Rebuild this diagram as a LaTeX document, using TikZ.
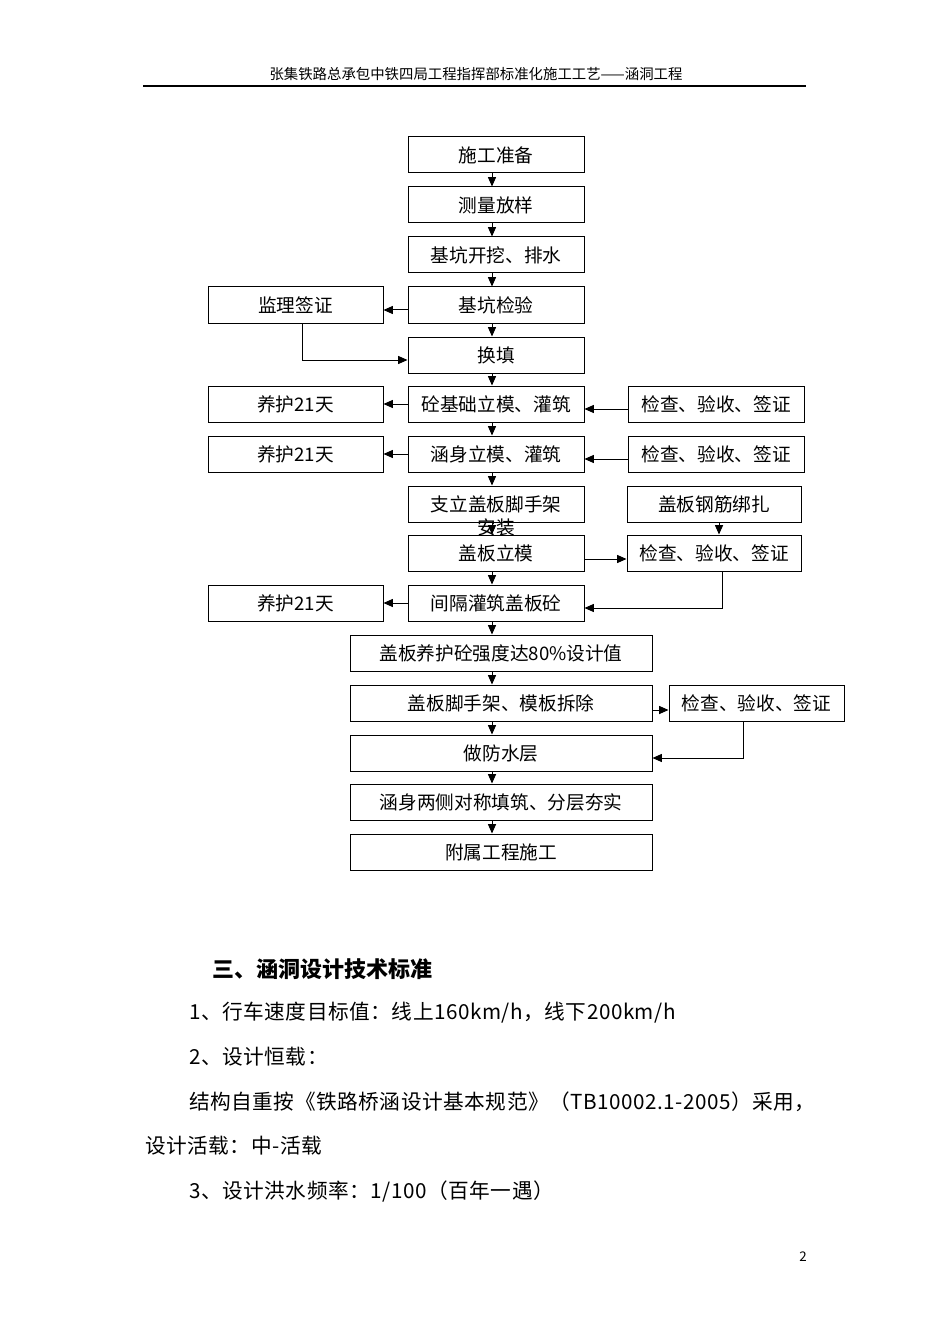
\documentclass[tikz,border=0pt]{standalone}
\usepackage{fontspec}
\setmainfont{Noto Sans CJK SC}
\newfontfamily\bodyfont[LetterSpace=2.5]{Noto Sans CJK SC}
\usetikzlibrary{arrows.meta}
\begin{document}
\begin{tikzpicture}[x=0.75pt,y=-0.75pt,
  box/.style={draw, line width=0.75pt, inner sep=0pt, minimum height=27pt, font=\fontsize{14}{16}\selectfont},
  narrow/.style={box, minimum width=132pt},
  wide/.style={box, minimum width=226.5pt},
  arr/.style={-{Triangle[length=7pt,width=6pt]}, line width=0.75pt},
  plain/.style={anchor=west, inner sep=0pt, font=\bodyfont\fontsize{15.5}{18}\selectfont},
]
\path[fill=white] (0,0) rectangle (950,1344);
\coordinate (ax) at (492,0);

% header
\node[anchor=base, inner sep=0pt, font=\fontsize{10.8}{12}\selectfont] (hd) at (476,80) {张集铁路总承包中铁四局工程指挥部标准化施工工艺——涵洞工程};
\draw[line width=1.2pt] (143,86) -- (806,86);

% main column
\node[narrow] (a1) at (496,155) {施工准备};
\node[narrow] (a2) at (496,205) {测量放样};
\node[narrow] (a3) at (496,255) {基坑开挖、排水};
\node[narrow] (a4) at (496,305) {基坑检验};
\node[narrow] (a5) at (496,355) {换填};
\node[narrow] (a6) at (496,404) {砼基础立模、灌筑};
\node[narrow] (a7) at (496,454) {涵身立模、灌筑};
\node[narrow] (a8) at (496,504) {支立盖板脚手架\llap{\makebox[7em][c]{\raisebox{-1.25em}[0pt][0pt]{安装}}}};
\node[narrow] (a9) at (496,553) {盖板立模};
\node[narrow] (a10) at (496,603) {间隔灌筑盖板砼};
\node[wide] (a11) at (501,653) {盖板养护砼强度达80\%设计值};
\node[wide] (a12) at (501,703) {盖板脚手架、模板拆除};
\node[wide] (a13) at (501,753) {做防水层};
\node[wide] (a14) at (501,802) {涵身两侧对称填筑、分层夯实};
\node[wide] (a15) at (501,852) {附属工程施工};

% left column
\node[narrow, minimum width=131.25pt] (l1) at (295.5,305) {监理签证};
\node[narrow, minimum width=131.25pt] (l2) at (295.5,404) {养护21天};
\node[narrow, minimum width=131.25pt] (l3) at (295.5,454) {养护21天};
\node[narrow, minimum width=131.25pt] (l4) at (295.5,603) {养护21天};

% right column
\node[narrow] (r1) at (716,404) {检查、验收、签证};
\node[narrow] (r2) at (716,454) {检查、验收、签证};
\node[narrow, minimum width=130.5pt] (r3) at (714,504) {盖板钢筋绑扎};
\node[narrow, minimum width=130.5pt] (r4) at (714,553) {检查、验收、签证};
\node[narrow, minimum width=131.25pt] (r5) at (756.5,703) {检查、验收、签证};

% vertical main arrows
\foreach \p/\q in {a1/a2,a2/a3,a3/a4,a4/a5,a5/a6,a6/a7,a7/a8,a8/a9,a9/a10,a10/a11,a11/a12,a12/a13,a13/a14,a14/a15}
  \draw[arr] (\p.south -| ax) -- (\q.north -| ax);

% left side
\draw[arr] ([yshift=-3.75pt]a4.west) -- ([yshift=-3.75pt]l1.east);
\draw[arr] ([xshift=4.9pt]l1.south) |- ([yshift=-3.75pt]a5.west);
\draw[arr] (a6.west) -- (l2.east);
\draw[arr] (a7.west) -- (l3.east);
\draw[arr] (a10.west) -- (l4.east);

% right side
\draw[arr] ([yshift=-3.75pt]r1.west) -- ([yshift=-3.75pt]a6.east);
\draw[arr] ([yshift=-3.75pt]r2.west) -- ([yshift=-3.75pt]a7.east);
\draw[arr] ([xshift=3.75pt]r3.south) -- ([xshift=3.75pt]r4.north);
\draw[arr] ([yshift=-4.5pt]a9.east) -- ([yshift=-4.5pt]a9.east -| r4.west);
\draw[arr] ([xshift=6pt]r4.south) |- ([yshift=-3.75pt]a10.east);
\draw[arr] ([yshift=-5.25pt]a12.east) -- ([yshift=-5.25pt]a12.east -| r5.west);
\draw[arr] ([xshift=-9.4pt]r5.south) |- ([yshift=-3.75pt]a13.east);

% body text
\node[anchor=west, inner sep=0pt, font=\bfseries\fontsize{16.5}{18}\selectfont] (t0) at (212,969) {三、涵洞设计技术标准};
\node[plain] (t1) at (189,1013) {1、行车速度目标值：线上160km/h，线下200km/h};
\node[plain] (t2) at (189,1057) {2、设计恒载：};
\node[plain] (t3) at (189,1102) {结构自重按《铁路桥涵设计基本规范》（TB10002.1-2005）采用，};
\node[plain] (t4) at (145,1146) {设计活载：中-活载};
\node[plain] (t5) at (189,1191) {3、设计洪水频率：1/100（百年一遇）};
\node[inner sep=0pt, font=\fontsize{10}{12}\selectfont] (pg) at (803,1257) {2};
\end{tikzpicture}
\end{document}
